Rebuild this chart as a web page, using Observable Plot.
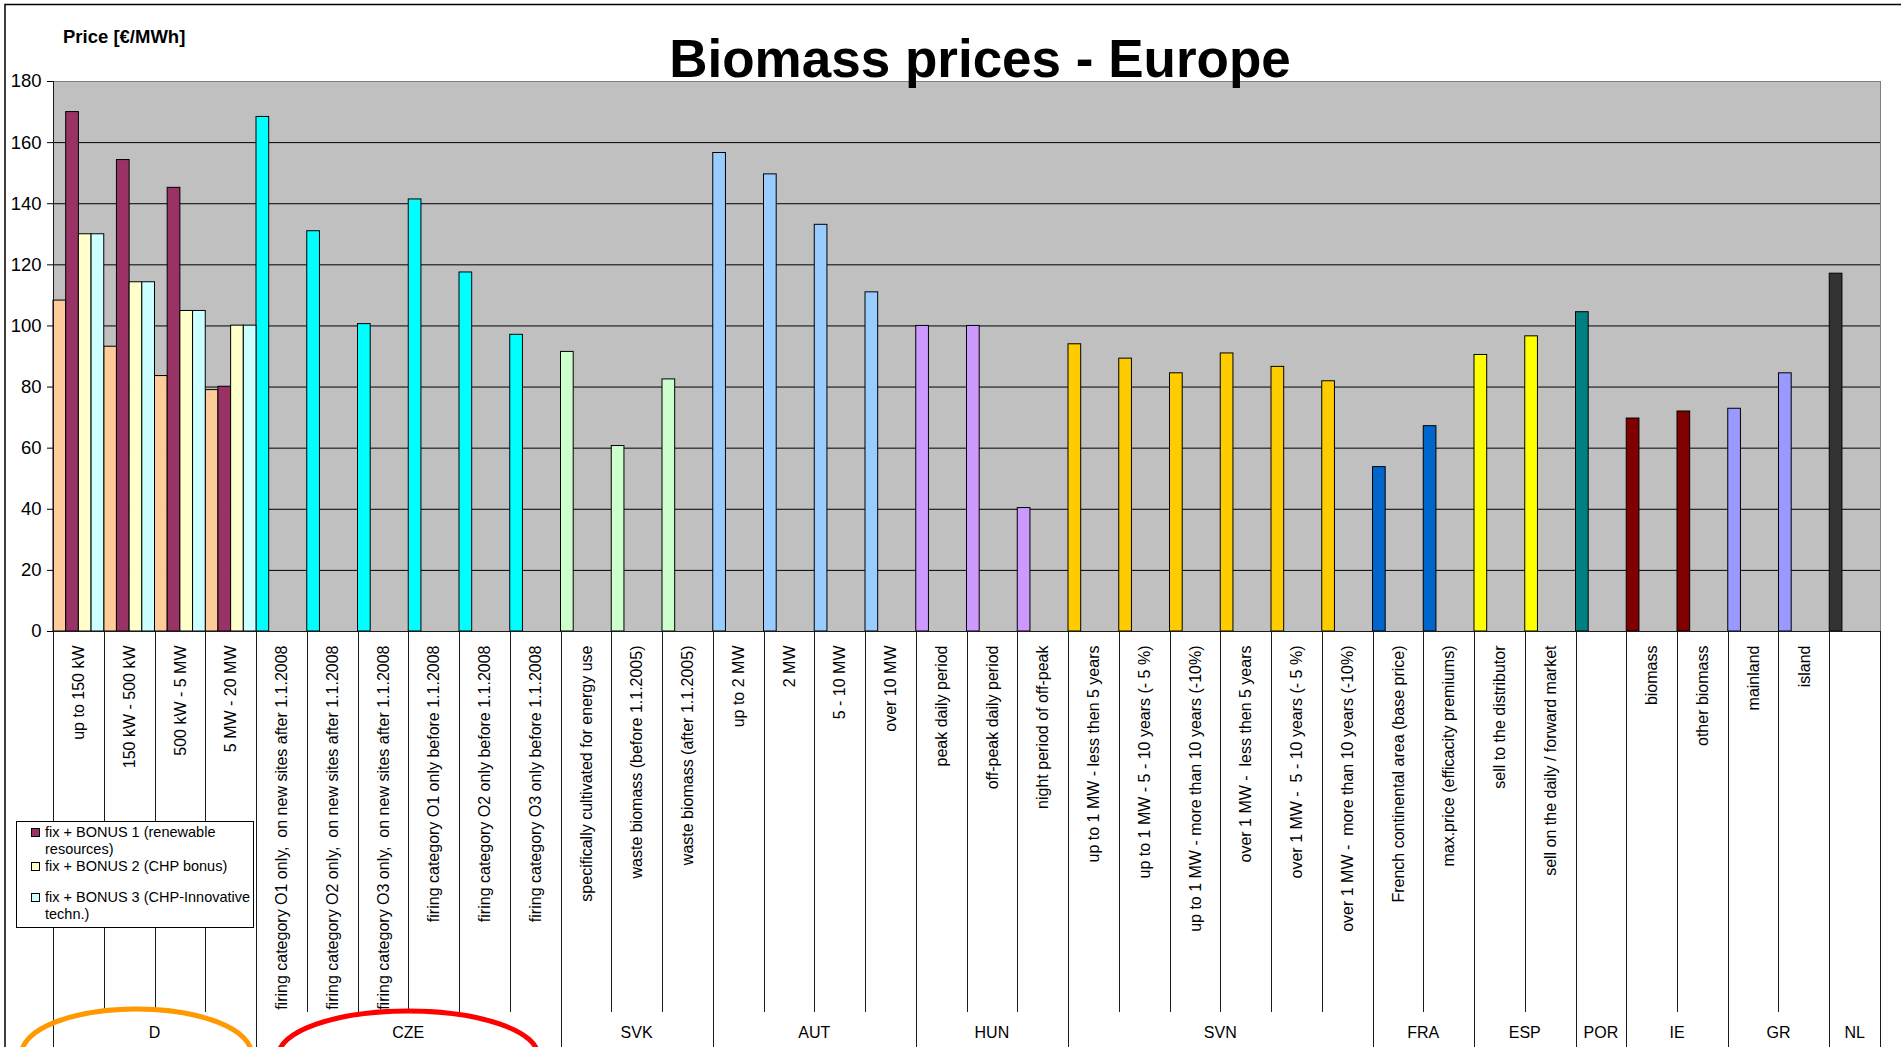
<!DOCTYPE html>
<html><head><meta charset="utf-8">
<script src="https://cdn.jsdelivr.net/npm/d3@7"></script>
<script src="https://cdn.jsdelivr.net/npm/@observablehq/plot@0.6"></script>
<style>
html,body{margin:0;padding:0;background:#fff;overflow:hidden;}
svg text{white-space:pre;}
</style></head><body><div id="chart"></div>
<script>
// ---------- data ----------
const countries = ["D","CZE","SVK","AUT","HUN","SVN","FRA","ESP","POR","IE","GR","NL"];
const countryCounts = [4,6,3,4,3,6,2,2,1,2,2,1];
const categories = [
  "up to 150 kW","150 kW - 500 kW","500 kW - 5 MW","5 MW - 20 MW",
  "firing category O1 only,  on new sites after 1.1.2008",
  "firing category O2 only,  on new sites after 1.1.2008",
  "firing category O3 only,  on new sites after 1.1.2008",
  "firing category O1 only before 1.1.2008",
  "firing category O2 only before 1.1.2008",
  "firing category O3 only before 1.1.2008",
  "specifically cultivated for energy use",
  "waste biomass (before 1.1.2005)",
  "waste biomass (after 1.1.2005)",
  "up to 2 MW","2 MW","5 - 10 MW","over 10 MW",
  "peak daily period","off-peak daily period","night period of off-peak",
  "up to 1 MW - less then 5 years","up to 1 MW - 5 - 10 years (- 5 %)","up to 1 MW - more than 10 years (-10%)",
  "over 1 MW -  less then 5 years","over 1 MW -  5 - 10 years (- 5 %)","over 1 MW -  more than 10 years (-10%)",
  "French continental area (base price)","max.price (efficacity premiums)",
  "sell to the distributor","sell on the daily / forward market",
  "",
  "biomass","other biomass",
  "mainland","island",
  ""
];
// first series ("fix" price), one value per category
const fixValues = [
  108.3, 93.2, 83.6, 79.0,
  168.4, 131.0, 100.6, 141.4, 117.5, 97.1,
  91.5, 60.7, 82.5,
  156.6, 149.6, 133.1, 111.0,
  100.0, 100.0, 40.4,
  94.0, 89.3, 84.5, 91.0, 86.6, 81.9,
  53.8, 67.2,
  90.5, 96.6,
  104.5,
  69.7, 72.0,
  72.9, 84.5,
  117.1
];
// Germany bonus series (first four categories)
const bonus1Values = [170.0, 154.3, 145.2, 80.1];
const bonus2Values = [130.0, 114.3, 104.9, 100.1];
const bonus3Values = [130.0, 114.3, 104.9, 100.1];
const bonusNames = ["fix + BONUS 1 (renewable\nresources)", "fix + BONUS 2 (CHP bonus)", "fix + BONUS 3 (CHP-Innovative\ntechn.)"];
const yTicks = [0,20,40,60,80,100,120,140,160,180];

// ---------- styles ----------
const countryColors = {D:"#FFCC99",CZE:"#00FFFF",SVK:"#CCFFCC",AUT:"#99CCFF",HUN:"#CC99FF",SVN:"#FFCC00",
  FRA:"#0066CC",ESP:"#FFFF00",POR:"#008080",IE:"#800000",GR:"#9999FF",NL:"#333333"};
const bonusColors = ["#993366","#FFFFCC","#CCFFFF"];
const FONT = "'Liberation Sans', Arial, Helvetica, sans-serif";

// ---------- table ----------
const catCountry = countries.flatMap((c,k) => Array(countryCounts[k]).fill(c));
const bars = [];
fixValues.forEach((v,i) => bars.push({cat:i, slot:0, value:v, fill: countryColors[catCountry[i]]}));
[bonus1Values, bonus2Values, bonus3Values].forEach((vals,s) =>
  vals.forEach((v,i) => bars.push({cat:i, slot:s+1, value:v, fill: bonusColors[s]})));

const W = 1901, H = 1047;
const plot = Plot.plot({
  width: W, height: H,
  marginLeft: 53, marginRight: 21, marginTop: 81, marginBottom: 416,
  style: {fontFamily: FONT, background: "transparent", color: "#000"},
  x: {domain: [0, categories.length]},
  y: {domain: [0, 180]},
  color: {type: "identity"},
  marks: [
    Plot.frame({fill: "#C0C0C0", stroke: "#808080"}),
    Plot.gridY({ticks: yTicks.filter(t => t > 0 && t < 180), stroke: "#000", strokeOpacity: 1, strokeWidth: 1}),
    Plot.rectY(bars, {
      x1: d => d.cat + d.slot/4, x2: d => d.cat + (d.slot+1)/4,
      y: "value", fill: "fill", stroke: "#000", strokeWidth: 1
    }),
    Plot.axisY({ticks: yTicks, tickSize: 6, tickPadding: 6, fontSize: 18.5, label: null}),
    Plot.axisX({
      ticks: d3.range(categories.length).map(i => i + 0.5),
      tickFormat: d => categories[Math.floor(d)],
      tickRotate: -90, tickSize: 0, tickPadding: 14, fontSize: 16, label: null
    })
  ]
});
document.getElementById("chart").appendChild(plot);

// ---------- furniture drawn with the plot's scales ----------
const xs = plot.scale("x"), ys = plot.scale("y");
const X = v => xs.apply(v), Y = v => ys.apply(v);
const svg = d3.select(plot);
const y0 = Y(0);

const bounds = [0]; countryCounts.reduce((a,c) => { bounds.push(a + c); return a + c; }, 0);
const g = svg.append("g").attr("stroke", "#1a1a1a").attr("stroke-width", 1);
for (let i = 0; i <= categories.length; i++) {
  const px = Math.round(X(i)) + 0.5;
  g.append("line").attr("x1", px).attr("x2", px).attr("y1", y0).attr("y2", bounds.includes(i) ? H : 1012);
}
// axis lines
g.append("line").attr("x1", Math.round(X(0)) + 0.5).attr("x2", Math.round(X(0)) + 0.5).attr("y1", Y(180)).attr("y2", y0);
g.append("line").attr("x1", X(0)).attr("x2", X(categories.length)).attr("y1", Math.round(y0) + 0.5).attr("y2", Math.round(y0) + 0.5);

// country labels
countries.forEach((c,k) => {
  svg.append("text").attr("x", X((bounds[k] + bounds[k+1]) / 2)).attr("y", 1038)
    .attr("text-anchor", "middle").attr("font-size", 16).attr("font-family", FONT).attr("fill", "#000").text(c);
});

// highlight ellipses
const dMid = X((bounds[0] + bounds[1]) / 2), czMid = X((bounds[1] + bounds[2]) / 2);
svg.append("ellipse").attr("cx", dMid - 18).attr("cy", 1054).attr("rx", 115).attr("ry", 45)
  .attr("fill", "none").attr("stroke", "#FF9900").attr("stroke-width", 5);
svg.append("ellipse").attr("cx", czMid).attr("cy", 1056).attr("rx", 130).attr("ry", 45)
  .attr("fill", "none").attr("stroke", "#FF0000").attr("stroke-width", 5);

// legend
const lg = svg.append("g").attr("font-family", FONT).attr("font-size", 14.5).attr("text-anchor", "start");
lg.append("rect").attr("x", 16.5).attr("y", 821.5).attr("width", 237).attr("height", 106)
  .attr("fill", "#fff").attr("stroke", "#000").attr("stroke-width", 1);
const legendRows = [828, 862, 893];
bonusNames.forEach((name, s) => {
  lg.append("rect").attr("x", 31.5).attr("y", legendRows[s] + 0.5).attr("width", 8).attr("height", 8)
    .attr("fill", bonusColors[s]).attr("stroke", "#000");
  name.split("\n").forEach((line, j) => {
    lg.append("text").attr("x", 45).attr("y", legendRows[s] + 8.5 + j * 17.5)
      .attr("text-anchor", "start").attr("fill", "#000").text(line);
  });
});

// titles
svg.append("text").attr("x", 980).attr("y", 77).attr("text-anchor", "middle")
  .attr("font-family", FONT).attr("font-weight", "bold").attr("font-size", 53).attr("fill", "#000")
  .text("Biomass prices - Europe");
svg.append("text").attr("x", 63).attr("y", 43).attr("text-anchor", "start")
  .attr("font-family", FONT).attr("font-weight", "bold").attr("font-size", 18.5).attr("fill", "#000")
  .text("Price [€/MWh]");

// outer border
svg.append("rect").attr("x", 5).attr("y", 4.5).attr("width", W + 20).attr("height", H + 20)
  .attr("fill", "none").attr("stroke", "#000").attr("stroke-width", 1.5);
</script></body></html>
